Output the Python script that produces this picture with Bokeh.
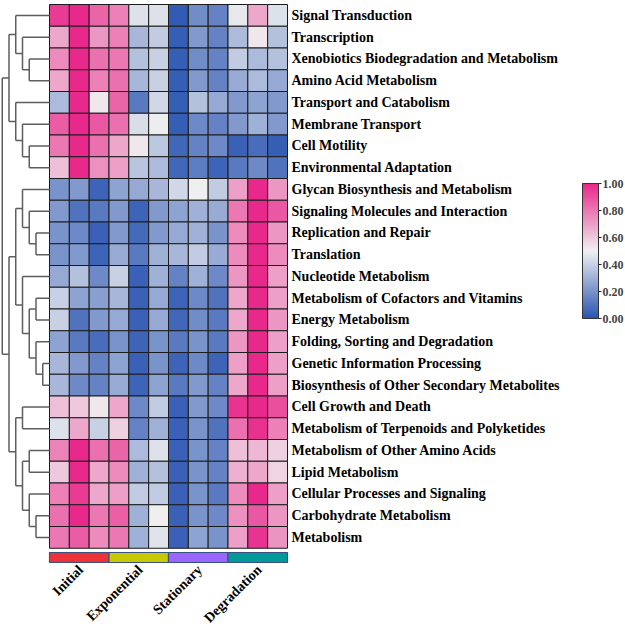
import numpy as np
from bokeh.plotting import figure
from bokeh.models import (ColumnDataSource, LinearColorMapper, ColorBar, FixedTicker,
                          PrintfTickFormatter, Range1d)
from bokeh.transform import transform
from bokeh.core.properties import value
from bokeh.embed import file_html
from bokeh.resources import INLINE

# ---------------- data ----------------
pathways = [
    "Signal Transduction", "Transcription", "Xenobiotics Biodegradation and Metabolism",
    "Amino Acid Metabolism", "Transport and Catabolism", "Membrane Transport",
    "Cell Motility", "Environmental Adaptation", "Glycan Biosynthesis and Metabolism",
    "Signaling Molecules and Interaction", "Replication and Repair", "Translation",
    "Nucleotide Metabolism", "Metabolism of Cofactors and Vitamins", "Energy Metabolism",
    "Folding, Sorting and Degradation", "Genetic Information Processing",
    "Biosynthesis of Other Secondary Metabolites", "Cell Growth and Death",
    "Metabolism of Terpenoids and Polyketides", "Metabolism of Other Amino Acids",
    "Lipid Metabolism", "Cellular Processes and Signaling", "Carbohydrate Metabolism",
    "Metabolism",
]
phases = ["Initial", "Exponential", "Stationary", "Degradation"]
phase_colors = ["#EE3338", "#C9C900", "#9966FF", "#009A9A"]
samples_per_phase = 3

values = [
    [0.95, 1.00, 0.85, 0.78, 0.45, 0.45, 0.02, 0.18, 0.15, 0.48, 0.68, 0.45],
    [0.68, 1.00, 0.72, 0.78, 0.32, 0.38, 0.03, 0.22, 0.15, 0.33, 0.52, 0.35],
    [0.75, 1.00, 0.82, 0.80, 0.35, 0.40, 0.03, 0.18, 0.15, 0.38, 0.33, 0.35],
    [0.68, 1.00, 0.78, 0.82, 0.32, 0.40, 0.03, 0.22, 0.15, 0.28, 0.33, 0.27],
    [0.33, 1.00, 0.52, 0.85, 0.12, 0.42, 0.03, 0.35, 0.27, 0.22, 0.25, 0.22],
    [0.87, 1.00, 0.88, 0.82, 0.44, 0.49, 0.03, 0.17, 0.15, 0.22, 0.30, 0.22],
    [0.80, 1.00, 0.82, 0.68, 0.52, 0.37, 0.06, 0.15, 0.17, 0.04, 0.08, 0.03],
    [0.62, 1.00, 0.74, 0.70, 0.36, 0.33, 0.06, 0.13, 0.05, 0.12, 0.17, 0.10],
    [0.20, 0.22, 0.05, 0.25, 0.27, 0.32, 0.42, 0.50, 0.38, 0.70, 1.00, 0.72],
    [0.22, 0.10, 0.12, 0.22, 0.05, 0.22, 0.25, 0.30, 0.28, 0.80, 1.00, 0.88],
    [0.20, 0.17, 0.04, 0.22, 0.07, 0.22, 0.27, 0.30, 0.20, 0.75, 1.00, 0.72],
    [0.20, 0.22, 0.05, 0.28, 0.12, 0.30, 0.32, 0.38, 0.28, 0.75, 1.00, 0.75],
    [0.27, 0.35, 0.17, 0.40, 0.04, 0.30, 0.15, 0.30, 0.17, 0.72, 1.00, 0.70],
    [0.40, 0.25, 0.24, 0.32, 0.04, 0.27, 0.05, 0.17, 0.10, 0.68, 1.00, 0.70],
    [0.40, 0.10, 0.22, 0.27, 0.04, 0.27, 0.06, 0.18, 0.12, 0.68, 1.00, 0.72],
    [0.25, 0.12, 0.08, 0.20, 0.05, 0.20, 0.12, 0.20, 0.12, 0.72, 1.00, 0.70],
    [0.32, 0.22, 0.15, 0.25, 0.04, 0.20, 0.05, 0.17, 0.05, 0.70, 1.00, 0.70],
    [0.32, 0.17, 0.15, 0.28, 0.05, 0.25, 0.12, 0.22, 0.15, 0.68, 1.00, 0.70],
    [0.62, 0.60, 0.52, 0.68, 0.17, 0.38, 0.04, 0.22, 0.17, 0.97, 1.00, 0.90],
    [0.45, 0.68, 0.40, 0.58, 0.15, 0.30, 0.04, 0.20, 0.10, 0.82, 0.98, 0.78],
    [0.77, 1.00, 0.82, 0.85, 0.33, 0.45, 0.04, 0.20, 0.15, 0.62, 0.64, 0.58],
    [0.60, 1.00, 0.68, 0.75, 0.30, 0.35, 0.04, 0.20, 0.15, 0.66, 0.68, 0.57],
    [0.78, 0.95, 0.68, 0.70, 0.38, 0.38, 0.04, 0.20, 0.12, 0.75, 1.00, 0.70],
    [0.82, 1.00, 0.80, 0.86, 0.30, 0.50, 0.04, 0.20, 0.17, 0.74, 0.88, 0.72],
    [0.80, 0.87, 0.75, 0.80, 0.30, 0.46, 0.04, 0.25, 0.20, 0.70, 0.97, 0.73],
]

# row dendrogram: (merge height, left, right); ints are row indices
cluster_top = (6, (5, 0, (4, 1, (3, 2, 3))), (5, 4, (4, 5, (3, 6, 7))))
cluster_a = (4, 8, (3, 9, (2, 10, 11)))
cluster_b = (4, 12, (3, (2, 13, 14), (2, 15, (1, 16, 17))))
cluster_c = (5, (4, 18, 19), (4, (3, 20, 21), (3, 22, (2, 23, 24))))
dendro_tree = (7, cluster_top, (6, (5, cluster_a, cluster_b), cluster_c))

colorbar_ticks = [0.0, 0.2, 0.4, 0.6, 0.8, 1.0]

# ---------------- geometry / style ----------------
n_rows = len(pathways)
n_cols = len(values[0])
COL_PX = 238 / 12
ROW_PX = 21.75
W, H = 625, 631
LEFT_PX = 49      # heatmap left edge inside the figure
TOP_PX = 4        # heatmap top edge inside the figure
DEND_UNIT = 6.75 / COL_PX  # data units per merge-height step

x0 = -LEFT_PX / COL_PX
x1 = x0 + W / COL_PX
y1 = n_rows + TOP_PX / ROW_PX
y0 = y1 - H / ROW_PX

SERIF = value("Liberation Serif")


def hex2rgb(h):
    return np.array([int(h[i:i + 2], 16) for i in (1, 3, 5)], dtype=float)


anchors = [hex2rgb("#2A55B2"), hex2rgb("#F0F0F0"), hex2rgb("#E8288A")]
palette = []
for t in np.linspace(0, 1, 256):
    if t <= 0.5:
        c = anchors[0] + (anchors[1] - anchors[0]) * (t / 0.5)
    else:
        c = anchors[1] + (anchors[2] - anchors[1]) * ((t - 0.5) / 0.5)
    palette.append("#%02x%02x%02x" % tuple(int(round(v)) for v in c))

mapper = LinearColorMapper(palette=palette, low=0, high=1)

p = figure(width=W, height=H, x_range=Range1d(x0, x1), y_range=Range1d(y0, y1),
           output_backend="svg", toolbar_location=None, min_border=0,
           min_border_left=0, min_border_right=0, min_border_top=0, min_border_bottom=0)
p.axis.visible = False
p.grid.visible = False
p.outline_line_color = None
p.background_fill_color = "white"

# heatmap
xs, ys, vs = [], [], []
for i, row in enumerate(values):
    for j, v in enumerate(row):
        xs.append(j + 0.5)
        ys.append(n_rows - i - 0.5)
        vs.append(v)
src = ColumnDataSource(dict(x=xs, y=ys, v=vs))
p.rect("x", "y", width=1, height=1, source=src, fill_color=transform("v", mapper),
       line_color="#1c1c1c", line_width=1)

# row labels
p.text(x=[n_cols + 4 / COL_PX] * n_rows, y=[n_rows - i - 0.5 for i in range(n_rows)], text=pathways,
       text_font=SERIF, text_font_style="bold", text_font_size="14px",
       text_baseline="middle", text_align="left", text_color="black")

# dendrogram
seg_x0, seg_y0, seg_x1, seg_y1 = [], [], [], []


def walk(node):
    if isinstance(node, int):
        return 0.0, n_rows - node - 0.5
    h, left, right = node
    lx, ly = walk(left)
    rx, ry = walk(right)
    xn = -h * DEND_UNIT
    seg_x0.extend([xn, xn, xn])
    seg_y0.extend([ly, ly, ry])
    seg_x1.extend([xn, lx, rx])
    seg_y1.extend([ry, ly, ry])
    return xn, (ly + ry) / 2


walk(dendro_tree)
p.segment(seg_x0, seg_y0, seg_x1, seg_y1, line_color="#5e5e5e", line_width=1.5)

# phase bar
bar_top = -4.25 / ROW_PX
bar_h = 10 / ROW_PX
centers = [samples_per_phase * (k + 0.5) for k in range(len(phases))]
p.rect(x=centers, y=[bar_top - bar_h / 2] * len(phases), width=samples_per_phase, height=bar_h,
       fill_color=phase_colors, line_color="#3B5080", line_width=1.2)

# phase labels
p.text(x=[c + 1.5 / COL_PX for c in centers], y=[bar_top - bar_h - 5 / ROW_PX] * len(phases),
       text=phases, angle=np.pi / 4, text_font=SERIF, text_font_style="bold",
       text_font_size="14px", text_align="right", text_baseline="middle", text_color="black")

# color bar
cb = ColorBar(color_mapper=mapper, ticker=FixedTicker(ticks=colorbar_ticks),
              formatter=PrintfTickFormatter(format="%.2f"), width=16, height=135,
              location=(582, 313), padding=0, label_standoff=1,
              major_label_text_font="Liberation Serif", major_label_text_font_style="bold",
              major_label_text_font_size="12px", major_tick_line_color="#222222",
              major_tick_out=3, major_tick_in=0, bar_line_color="#333333",
              background_fill_alpha=0, border_line_color=None)
p.add_layout(cb)

open("out.html", "w").write(file_html(p, INLINE))
